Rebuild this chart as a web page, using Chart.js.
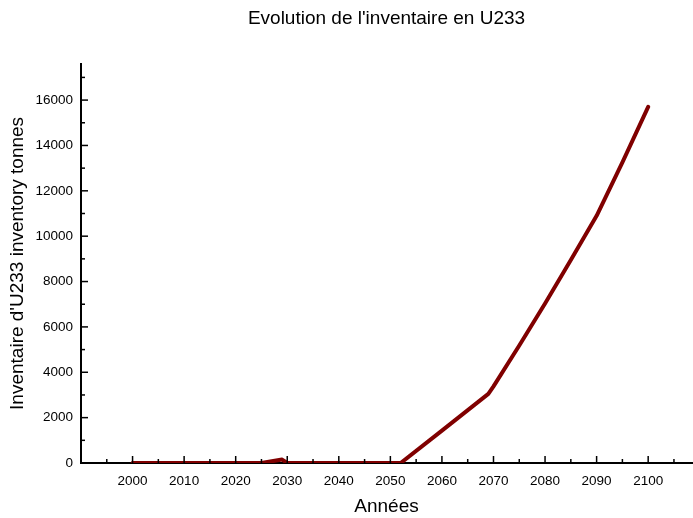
<!DOCTYPE html>
<html>
<head>
<meta charset="utf-8">
<script src="https://cdn.jsdelivr.net/npm/chart.js@4"></script>
<style>
  body { margin: 0; background: #fff; }
  #wrap { width: 693px; height: 518px; position: relative; }
</style>
</head>
<body>
<div id="wrap"><canvas id="grafica"></canvas></div>
<script>
// --- Données ---
const annees  = [2000, 2005, 2010, 2015, 2020, 2025, 2029, 2030, 2035, 2040, 2045, 2050, 2052,
                 2060, 2069, 2070, 2075, 2080, 2085, 2090, 2095, 2100];
const valeurs = [0, 0, 0, 0, 0, 0, 150, 0, 0, 0, 0, 0, 0,
                 1430, 3050, 3380, 5180, 7030, 8950, 10900, 13250, 15700];
// graduations (majeures étiquetées, mineures sans texte)
const ticksX = [1995, 2000, 2005, 2010, 2015, 2020, 2025, 2030, 2035, 2040, 2045, 2050,
                2055, 2060, 2065, 2070, 2075, 2080, 2085, 2090, 2095, 2100, 2105];
const ticksY = [0, 1000, 2000, 3000, 4000, 5000, 6000, 7000, 8000, 9000, 10000,
                11000, 12000, 13000, 14000, 15000, 16000, 17000];
const titre  = "Evolution de l'inventaire en U233";
const titreX = 'Années';
const titreY = "Inventaire d'U233 inventory tonnes";

const police = 'Liberation Sans, Arial, sans-serif';

// Graduations vers l'intérieur (majeures / mineures)
const ticksInterieurs = {
  id: 'ticksInterieurs',
  afterDraw(chart) {
    const ctx = chart.ctx;
    const x = chart.scales.x, y = chart.scales.y;
    ctx.save();
    ctx.strokeStyle = '#000';
    ctx.lineWidth = 1.5;
    x.ticks.forEach(t => {
      const px = x.getPixelForValue(t.value);
      const len = t.value % 10 === 0 ? 7 : 4;
      ctx.beginPath();
      ctx.moveTo(px, y.bottom);
      ctx.lineTo(px, y.bottom - len);
      ctx.stroke();
    });
    y.ticks.forEach(t => {
      const py = y.getPixelForValue(t.value);
      const len = t.value % 2000 === 0 ? 7 : 4;
      ctx.beginPath();
      ctx.moveTo(x.left, py);
      ctx.lineTo(x.left + len, py);
      ctx.stroke();
    });
    ctx.restore();
  }
};

new Chart(document.getElementById('grafica'), {
  type: 'line',
  data: {
    datasets: [{
      data: annees.map((a, i) => ({ x: a, y: valeurs[i] })),
      borderColor: '#800000',
      borderWidth: 4,
      borderCapStyle: 'round',
      borderJoinStyle: 'round',
      pointRadius: 0,
      tension: 0,
      fill: false
    }]
  },
  options: {
    responsive: true,
    maintainAspectRatio: false,
    animation: false,
    layout: { padding: { top: 0, right: 1, bottom: 0, left: 0 } },
    plugins: {
      legend: { display: false },
      tooltip: { enabled: false },
      title: {
        display: true,
        text: titre,
        fullSize: false,
        color: '#000',
        font: { family: police, size: 19, weight: 'normal' },
        padding: { top: 7, bottom: 34 }
      }
    },
    scales: {
      x: {
        type: 'linear',
        min: 1990,
        max: 2108.5,
        afterBuildTicks: s => { s.ticks = ticksX.map(v => ({ value: v })); },
        grid: { display: false, drawTicks: false },
        border: { display: true, color: '#000', width: 2 },
        ticks: {
          padding: 10,
          color: '#000',
          font: { family: police, size: 13.5 },
          maxRotation: 0,
          autoSkip: false,
          callback: v => v % 10 === 0 ? String(v) : ''
        },
        title: {
          display: true,
          text: titreX,
          color: '#000',
          font: { family: police, size: 19 },
          padding: { top: 0, bottom: 0 }
        },
        afterFit: s => { s.height = 55; }
      },
      y: {
        min: 0,
        max: 17600,
        afterBuildTicks: s => { s.ticks = ticksY.map(v => ({ value: v })); },
        grid: { display: false, drawTicks: false },
        border: { display: true, color: '#000', width: 2 },
        ticks: {
          padding: 8,
          color: '#000',
          font: { family: police, size: 13.5 },
          autoSkip: false,
          callback: v => v % 2000 === 0 ? String(v) : ''
        },
        title: {
          display: true,
          text: titreY,
          color: '#000',
          font: { family: police, size: 19 },
          padding: { top: 6, bottom: 0 }
        },
        afterFit: s => { s.width = 81; }
      }
    }
  },
  plugins: [ticksInterieurs]
});
</script>
</body>
</html>
